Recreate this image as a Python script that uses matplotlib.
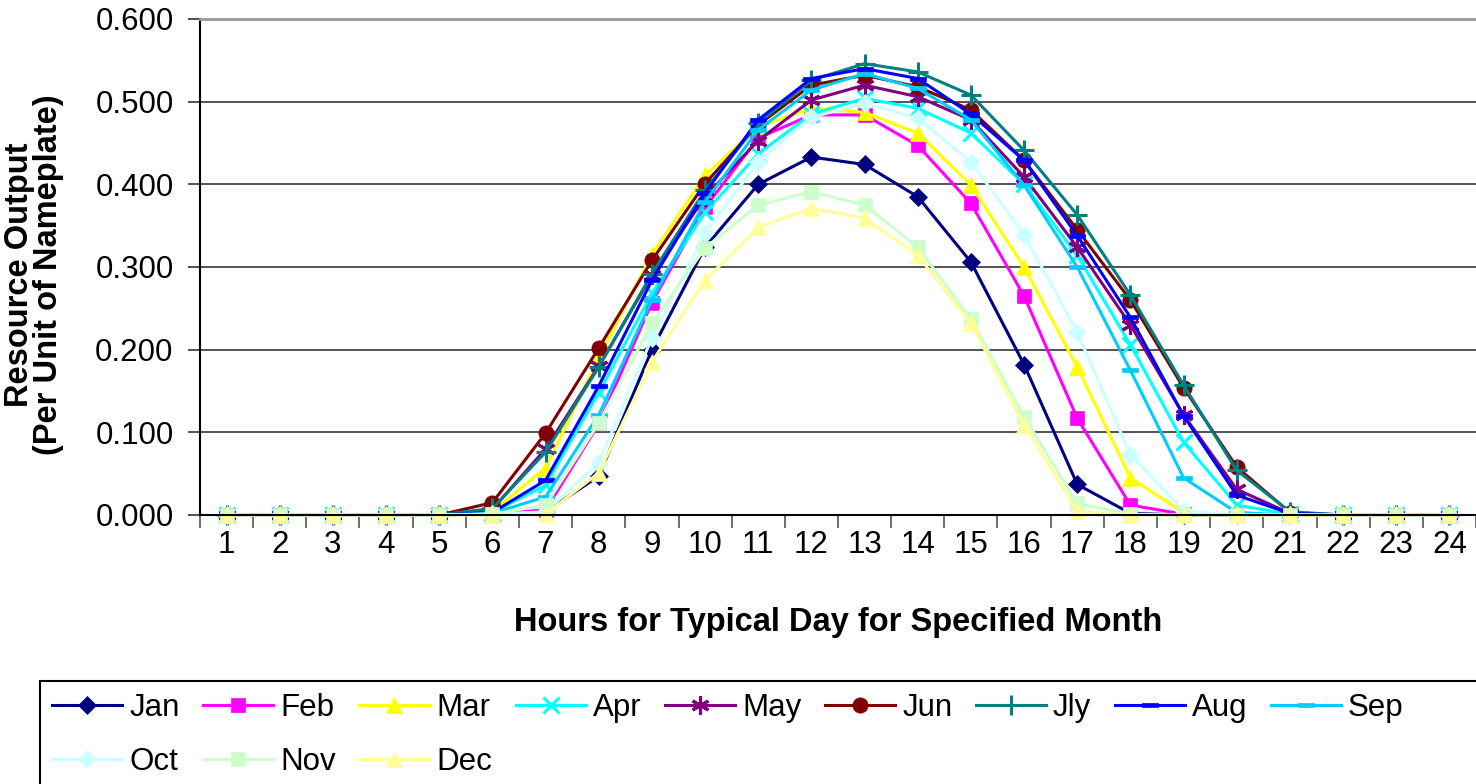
import matplotlib
matplotlib.use("Agg")
import matplotlib.pyplot as plt
import matplotlib.patches as mpatches
from matplotlib.path import Path
from matplotlib.ticker import FormatStrFormatter, FixedLocator

plt.rcParams['font.family'] = ['Liberation Sans', 'DejaVu Sans']

hours = list(range(1, 25))

jan = [0, 0, 0, 0, 0, 0.002, 0.004, 0.047, 0.200, 0.324, 0.400, 0.433, 0.424, 0.385, 0.306, 0.182, 0.037, 0.002, 0, 0, 0, 0, 0, 0]
feb = [0, 0, 0, 0, 0, 0.002, 0.006, 0.110, 0.257, 0.372, 0.456, 0.484, 0.484, 0.447, 0.377, 0.265, 0.117, 0.012, 0.001, 0, 0, 0, 0, 0]
mar = [0, 0, 0, 0, 0, 0.004, 0.057, 0.190, 0.315, 0.411, 0.470, 0.492, 0.487, 0.462, 0.399, 0.300, 0.179, 0.045, 0.003, 0, 0, 0, 0, 0]
apr = [0, 0, 0, 0, 0, 0.003, 0.036, 0.148, 0.268, 0.366, 0.437, 0.485, 0.504, 0.492, 0.462, 0.400, 0.314, 0.206, 0.088, 0.012, 0.001, 0, 0, 0]
may = [0, 0, 0, 0, 0, 0.007, 0.080, 0.180, 0.290, 0.385, 0.453, 0.502, 0.520, 0.506, 0.478, 0.409, 0.324, 0.230, 0.121, 0.031, 0.002, 0, 0, 0]
jun = [0, 0, 0, 0, 0, 0.015, 0.099, 0.202, 0.308, 0.401, 0.472, 0.520, 0.532, 0.518, 0.490, 0.429, 0.345, 0.260, 0.154, 0.058, 0.003, 0, 0, 0]
jly = [0, 0, 0, 0, 0, 0.008, 0.076, 0.179, 0.292, 0.393, 0.474, 0.526, 0.546, 0.536, 0.508, 0.441, 0.363, 0.266, 0.157, 0.054, 0.004, 0, 0, 0]
aug = [0, 0, 0, 0, 0, 0.003, 0.042, 0.156, 0.284, 0.390, 0.478, 0.528, 0.540, 0.528, 0.485, 0.429, 0.338, 0.239, 0.120, 0.024, 0.002, 0, 0, 0]
sep = [0, 0, 0, 0, 0, 0.002, 0.022, 0.121, 0.260, 0.379, 0.466, 0.514, 0.534, 0.516, 0.478, 0.399, 0.300, 0.175, 0.045, 0.003, 0, 0, 0, 0]
oct_ = [0, 0, 0, 0, 0, 0.001, 0.004, 0.063, 0.214, 0.341, 0.427, 0.481, 0.498, 0.480, 0.427, 0.339, 0.221, 0.073, 0.005, 0, 0, 0, 0, 0]
nov = [0, 0, 0, 0, 0, 0.001, 0.012, 0.111, 0.232, 0.323, 0.375, 0.391, 0.375, 0.324, 0.237, 0.119, 0.014, 0.001, 0, 0, 0, 0, 0, 0]
dec = [0, 0, 0, 0, 0, 0, 0.001, 0.051, 0.185, 0.284, 0.348, 0.371, 0.359, 0.314, 0.232, 0.109, 0.005, 0, 0, 0, 0, 0, 0, 0]

labels = ['Jan', 'Feb', 'Mar', 'Apr', 'May', 'Jun', 'Jly', 'Aug', 'Sep', 'Oct', 'Nov', 'Dec']
series = [jan, feb, mar, apr, may, jun, jly, aug, sep, oct_, nov, dec]
colors = ['#000080', '#FF00FF', '#FFFF00', '#00FFFF', '#800080', '#800000',
          '#008080', '#0000FF', '#00CCFF', '#CCFFFF', '#CCFFCC', '#FFFF99']

# short bar marker, like Excel's dash marker
bar = Path([(-0.5, -0.1), (0.5, -0.1), (0.5, 0.1), (-0.5, 0.1), (-0.5, -0.1)],
           [Path.MOVETO, Path.LINETO, Path.LINETO, Path.LINETO, Path.CLOSEPOLY])
markers = ['D', 's', '^', 'x', (6, 2, 0), 'o', '+', bar, bar, 'D', 's', '^']
msizes = [9, 10, 11, 11, 13, 11, 14, 11, 11, 9, 10, 11]

dpi = 100
fig = plt.figure(figsize=(14.76, 7.84), dpi=dpi)
ax = fig.add_axes([200 / 1476, 1 - 515 / 784, 1 - 200 / 1476, (515 - 19) / 784])

handles = []
for vals, lab, c, m, ms in zip(series, labels, colors, markers, msizes):
    hollow = m in ('x', '+') or isinstance(m, tuple)
    ln, = ax.plot(hours, vals, color=c, lw=2.2, marker=m, markersize=ms,
                  markerfacecolor=c, markeredgecolor=c,
                  markeredgewidth=2.2 if hollow else 0.5, label=lab, clip_on=False)
    handles.append(ln)

ax.set_xlim(0.5, 24.5)
ax.set_ylim(0, 0.6)
ax.set_yticks([0, 0.1, 0.2, 0.3, 0.4, 0.5, 0.6])
ax.yaxis.set_major_formatter(FormatStrFormatter('%.3f'))
ax.set_xticks(hours)
ax.set_xticklabels([str(h) for h in hours])
ax.xaxis.set_minor_locator(FixedLocator([h + 0.5 for h in range(0, 25)]))
ax.tick_params(axis='x', which='major', length=0, pad=11, labelsize=22.5)
ax.tick_params(axis='x', which='minor', length=9, width=1.2, color='#555555', direction='out')
ax.tick_params(axis='y', length=9, width=1.2, labelsize=22.5, pad=10, color='#333333')
ax.grid(axis='y', color='#444444', lw=1.3)
ax.set_axisbelow(True)

ax.spines['right'].set_visible(False)
ax.spines['top'].set_color('#999999')
ax.spines['top'].set_linewidth(2)
ax.spines['left'].set_linewidth(1.5)
ax.spines['bottom'].set_linewidth(1.5)

ax.set_ylabel('Resource Output\n(Per Unit of Nameplate)', fontsize=23.5, fontweight='bold',
              linespacing=0.92)
ax.yaxis.set_label_coords(-136 / 1276, (515 - 275) / 496)
ax.set_xlabel('Hours for Typical Day for Specified Month', fontsize=23.5, fontweight='bold',
              labelpad=34)

# row-major legend order for 9 columns
order = [0, 9, 1, 10, 2, 11, 3, 4, 5, 6, 7, 8]
leg = fig.legend([handles[i] for i in order], [labels[i] for i in order],
                 loc='upper left', bbox_to_anchor=(52 / 1476, 1 - 693 / 784), ncol=9,
                 frameon=False, fontsize=22.5, handlelength=2.25, handletextpad=0.22,
                 columnspacing=0.75, labelspacing=0.78, borderaxespad=0, borderpad=0)
fig.add_artist(mpatches.Rectangle((40 / 1476, -0.01), 1.0, 0.01 + (784 - 681) / 784,
                                  transform=fig.transFigure, fill=False, ec='black', lw=1.5))

fig.savefig('out.png', dpi=dpi)
